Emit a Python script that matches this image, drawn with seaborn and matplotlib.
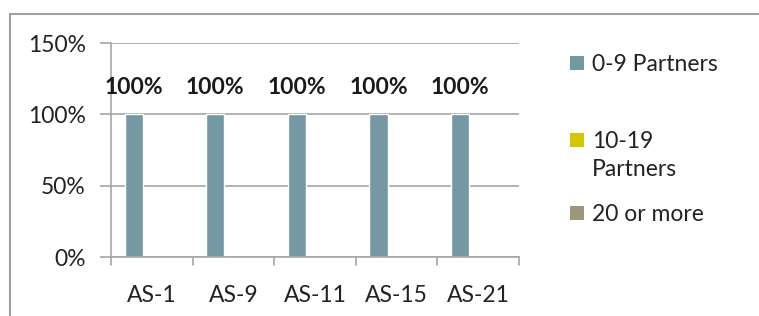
import matplotlib
matplotlib.use("Agg")
import matplotlib.pyplot as plt
import seaborn as sns
import pandas as pd
from matplotlib.lines import Line2D
from matplotlib.patches import Rectangle

categories = ["AS-1", "AS-9", "AS-11", "AS-15", "AS-21"]
series = ["0-9 Partners", "10-19\nPartners", "20 or more"]
values_0_9 = [100, 100, 100, 100, 100]
values_10_19 = [0, 0, 0, 0, 0]
values_20_plus = [0, 0, 0, 0, 0]
colors = ["#7598A5", "#D2C700", "#9A977B"]

rows = []
for s, vals in zip(series, [values_0_9, values_10_19, values_20_plus]):
    for c, v in zip(categories, vals):
        rows.append({"cat": c, "series": s, "value": v})
df = pd.DataFrame(rows)

sns.set_theme(style="white")
plt.rcParams["font.family"] = ["Lato", "DejaVu Sans"]
FS = 16.5
TXT = "#222222"
GRID = "#A6A6A6"

W, H = 759, 316
fig = plt.figure(figsize=(W / 100, H / 100), dpi=100)
ax_h = 257 - 43
ax = fig.add_axes([111 / W, 1 - 257 / H, (519 - 111) / W, ax_h / H])

sns.barplot(data=df, x="cat", y="value", hue="series", palette=colors,
            width=3 / 4.5, gap=0, ax=ax, legend=False, saturation=1)

ax.set_ylim(0, 150)
ax.set_xlim(-0.5, len(categories) - 0.5)
ax.set_yticks([0, 50, 100, 150])
ax.set_yticklabels(["0%", "50%", "100%", "150%"], fontsize=FS, color=TXT)
ax.set_xticks(range(len(categories)))
ax.set_xticklabels(categories, fontsize=FS, color=TXT)
ax.set_xlabel("")
ax.set_ylabel("")
ax.yaxis.grid(True, color=GRID, linewidth=1.2)
ax.set_axisbelow(True)
for sp in ["top", "right"]:
    ax.spines[sp].set_visible(False)
for sp in ["left", "bottom"]:
    ax.spines[sp].set_color(GRID)
    ax.spines[sp].set_linewidth(1.2)
ax.tick_params(axis="y", length=8, color=GRID, width=1.2, direction="out", left=True, pad=10)
ax.tick_params(axis="x", length=0, pad=20)

trans = ax.get_xaxis_transform()
for xb in [i - 0.5 for i in range(len(categories) + 1)]:
    ax.plot([xb, xb], [0, -8 / ax_h], transform=trans, clip_on=False,
            color=GRID, linewidth=1.2)

# data labels for first series
cont = ax.containers[0]
for bar, v in zip(cont, values_0_9):
    ax.annotate(f"{v:.0f}%", (bar.get_x() + bar.get_width() / 2, v),
                xytext=(0, 12), textcoords="offset points", ha="center", va="bottom",
                fontsize=FS, fontweight="bold", color="#1a1a1a")

# legend (placed like the reference: marker aligned with first text line)
leg_y = [63, 140, 213]
for c, lab, y in zip(colors, series, leg_y):
    fig.add_artist(Rectangle((570 / W, 1 - (y + 7) / H), 14 / W, 14 / H,
                             facecolor=c, edgecolor="none", transform=fig.transFigure))
    fig.text(592 / W, 1 - (y - 9) / H, lab, ha="left", va="top", fontsize=FS,
             color=TXT, linespacing=1.4)

# outer chart border (top and left)
fig.add_artist(Line2D([10 / W, 1], [1 - 13.5 / H, 1 - 13.5 / H], color="#A0A0A0", linewidth=1.5))
fig.add_artist(Line2D([10 / W, 10 / W], [0, 1 - 13.5 / H], color="#A0A0A0", linewidth=1.5))

fig.savefig("out.png", dpi=100)
